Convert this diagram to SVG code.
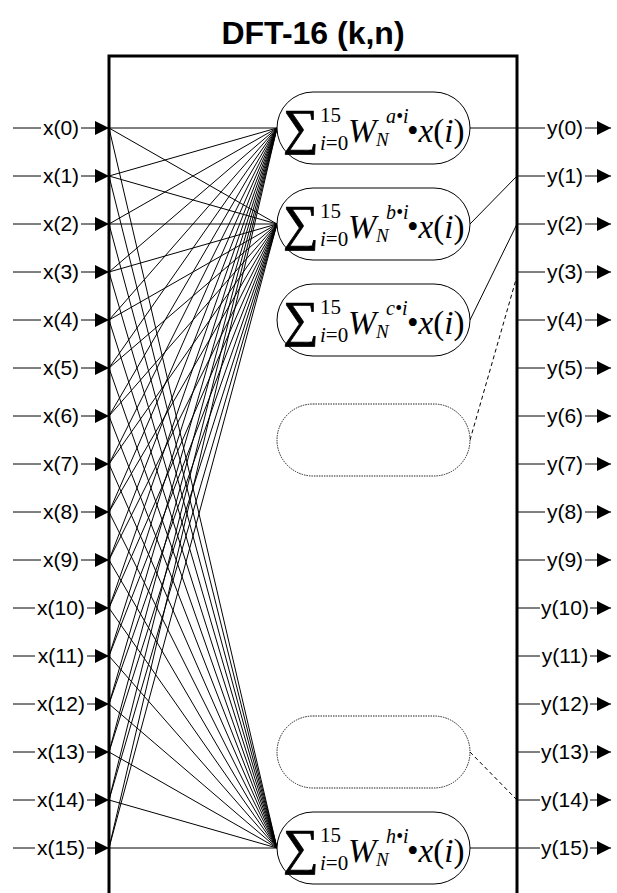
<svg xmlns="http://www.w3.org/2000/svg" width="617" height="893" viewBox="0 0 617 893">
<style>
.lbl{font-family:"Liberation Sans",Arial,sans-serif;font-size:21px;text-anchor:middle;fill:#000}
.ttl{font-family:"Liberation Sans",Arial,sans-serif;font-size:32px;font-weight:bold;text-anchor:middle;fill:#000}
.ln{stroke:#000;stroke-width:1;fill:none}
.arr{stroke:#000;stroke-width:1;fill:none;marker-end:url(#ah)}
.box{stroke:#000;stroke-width:3;fill:none}
.pill{fill:#fff;stroke:#000;stroke-width:1}
.dpill{fill:#fff;stroke:#222;stroke-width:1;stroke-dasharray:1.5,1}
.dash{stroke:#000;stroke-width:1;stroke-dasharray:4,3;fill:none}
.f{font-family:"Liberation Serif","Times New Roman",serif;fill:#000}
.sig{font-family:"Liberation Serif","Times New Roman",serif;fill:#000;stroke:#000;stroke-width:0.8;font-size:50px}
.it{font-style:italic}
</style>
<defs>
<marker id="ah" markerUnits="userSpaceOnUse" markerWidth="14" markerHeight="14" refX="14" refY="7" orient="auto">
<path d="M0,0 L14,7 L0,14 Z" fill="#000"/>
</marker>
</defs>
<text class="ttl" x="313" y="44">DFT-16 (k,n)</text>
<path class="box" d="M109,893 V56 H517 V893"/>
<g id="connectors">
<g id="fan-a">
<line class="ln" x1="109" y1="128" x2="277" y2="128"/>
<line class="ln" x1="109" y1="176" x2="277" y2="128"/>
<line class="ln" x1="109" y1="224" x2="277" y2="128"/>
<line class="ln" x1="109" y1="272" x2="277" y2="128"/>
<line class="ln" x1="109" y1="320" x2="277" y2="128"/>
<line class="ln" x1="109" y1="368" x2="277" y2="128"/>
<line class="ln" x1="109" y1="416" x2="277" y2="128"/>
<line class="ln" x1="109" y1="464" x2="277" y2="128"/>
<line class="ln" x1="109" y1="512" x2="277" y2="128"/>
<line class="ln" x1="109" y1="560" x2="277" y2="128"/>
<line class="ln" x1="109" y1="608" x2="277" y2="128"/>
<line class="ln" x1="109" y1="656" x2="277" y2="128"/>
<line class="ln" x1="109" y1="704" x2="277" y2="128"/>
<line class="ln" x1="109" y1="752" x2="277" y2="128"/>
<line class="ln" x1="109" y1="800" x2="277" y2="128"/>
<line class="ln" x1="109" y1="848" x2="277" y2="128"/>
</g>
<g id="fan-b">
<line class="ln" x1="109" y1="128" x2="277" y2="224"/>
<line class="ln" x1="109" y1="176" x2="277" y2="224"/>
<line class="ln" x1="109" y1="224" x2="277" y2="224"/>
<line class="ln" x1="109" y1="272" x2="277" y2="224"/>
<line class="ln" x1="109" y1="320" x2="277" y2="224"/>
<line class="ln" x1="109" y1="368" x2="277" y2="224"/>
<line class="ln" x1="109" y1="416" x2="277" y2="224"/>
<line class="ln" x1="109" y1="464" x2="277" y2="224"/>
<line class="ln" x1="109" y1="512" x2="277" y2="224"/>
<line class="ln" x1="109" y1="560" x2="277" y2="224"/>
<line class="ln" x1="109" y1="608" x2="277" y2="224"/>
<line class="ln" x1="109" y1="656" x2="277" y2="224"/>
<line class="ln" x1="109" y1="704" x2="277" y2="224"/>
<line class="ln" x1="109" y1="752" x2="277" y2="224"/>
<line class="ln" x1="109" y1="800" x2="277" y2="224"/>
<line class="ln" x1="109" y1="848" x2="277" y2="224"/>
</g>
<g id="fan-h">
<line class="ln" x1="109" y1="128" x2="277" y2="848"/>
<line class="ln" x1="109" y1="176" x2="277" y2="848"/>
<line class="ln" x1="109" y1="224" x2="277" y2="848"/>
<line class="ln" x1="109" y1="272" x2="277" y2="848"/>
<line class="ln" x1="109" y1="320" x2="277" y2="848"/>
<line class="ln" x1="109" y1="368" x2="277" y2="848"/>
<line class="ln" x1="109" y1="416" x2="277" y2="848"/>
<line class="ln" x1="109" y1="464" x2="277" y2="848"/>
<line class="ln" x1="109" y1="512" x2="277" y2="848"/>
<line class="ln" x1="109" y1="560" x2="277" y2="848"/>
<line class="ln" x1="109" y1="608" x2="277" y2="848"/>
<line class="ln" x1="109" y1="656" x2="277" y2="848"/>
<line class="ln" x1="109" y1="704" x2="277" y2="848"/>
<line class="ln" x1="109" y1="752" x2="277" y2="848"/>
<line class="ln" x1="109" y1="800" x2="277" y2="848"/>
<line class="ln" x1="109" y1="848" x2="277" y2="848"/>
</g>
<g id="outs">
<line class="ln" x1="470" y1="128" x2="517" y2="128"/>
<line class="ln" x1="470" y1="224" x2="517" y2="176"/>
<line class="ln" x1="470" y1="320" x2="517" y2="224"/>
<line class="dash" x1="470" y1="440" x2="517" y2="276"/>
<line class="dash" x1="470" y1="752" x2="517" y2="800"/>
<line class="ln" x1="470" y1="848" x2="517" y2="848"/>
</g>
</g>
<g id="inputs">
<g id="in0"><line class="ln" x1="13" y1="128" x2="41" y2="128"/><text class="lbl" x="61" y="134.5">x(0)</text><line class="arr" x1="81" y1="128" x2="109" y2="128"/></g>
<g id="in1"><line class="ln" x1="13" y1="176" x2="41" y2="176"/><text class="lbl" x="61" y="182.5">x(1)</text><line class="arr" x1="81" y1="176" x2="109" y2="176"/></g>
<g id="in2"><line class="ln" x1="13" y1="224" x2="41" y2="224"/><text class="lbl" x="61" y="230.5">x(2)</text><line class="arr" x1="81" y1="224" x2="109" y2="224"/></g>
<g id="in3"><line class="ln" x1="13" y1="272" x2="41" y2="272"/><text class="lbl" x="61" y="278.5">x(3)</text><line class="arr" x1="81" y1="272" x2="109" y2="272"/></g>
<g id="in4"><line class="ln" x1="13" y1="320" x2="41" y2="320"/><text class="lbl" x="61" y="326.5">x(4)</text><line class="arr" x1="81" y1="320" x2="109" y2="320"/></g>
<g id="in5"><line class="ln" x1="13" y1="368" x2="41" y2="368"/><text class="lbl" x="61" y="374.5">x(5)</text><line class="arr" x1="81" y1="368" x2="109" y2="368"/></g>
<g id="in6"><line class="ln" x1="13" y1="416" x2="41" y2="416"/><text class="lbl" x="61" y="422.5">x(6)</text><line class="arr" x1="81" y1="416" x2="109" y2="416"/></g>
<g id="in7"><line class="ln" x1="13" y1="464" x2="41" y2="464"/><text class="lbl" x="61" y="470.5">x(7)</text><line class="arr" x1="81" y1="464" x2="109" y2="464"/></g>
<g id="in8"><line class="ln" x1="13" y1="512" x2="41" y2="512"/><text class="lbl" x="61" y="518.5">x(8)</text><line class="arr" x1="81" y1="512" x2="109" y2="512"/></g>
<g id="in9"><line class="ln" x1="13" y1="560" x2="41" y2="560"/><text class="lbl" x="61" y="566.5">x(9)</text><line class="arr" x1="81" y1="560" x2="109" y2="560"/></g>
<g id="in10"><line class="ln" x1="13" y1="608" x2="35" y2="608"/><text class="lbl" x="61" y="614.5">x(10)</text><line class="arr" x1="87" y1="608" x2="109" y2="608"/></g>
<g id="in11"><line class="ln" x1="13" y1="656" x2="35" y2="656"/><text class="lbl" x="61" y="662.5">x(11)</text><line class="arr" x1="87" y1="656" x2="109" y2="656"/></g>
<g id="in12"><line class="ln" x1="13" y1="704" x2="35" y2="704"/><text class="lbl" x="61" y="710.5">x(12)</text><line class="arr" x1="87" y1="704" x2="109" y2="704"/></g>
<g id="in13"><line class="ln" x1="13" y1="752" x2="35" y2="752"/><text class="lbl" x="61" y="758.5">x(13)</text><line class="arr" x1="87" y1="752" x2="109" y2="752"/></g>
<g id="in14"><line class="ln" x1="13" y1="800" x2="35" y2="800"/><text class="lbl" x="61" y="806.5">x(14)</text><line class="arr" x1="87" y1="800" x2="109" y2="800"/></g>
<g id="in15"><line class="ln" x1="13" y1="848" x2="35" y2="848"/><text class="lbl" x="61" y="854.5">x(15)</text><line class="arr" x1="87" y1="848" x2="109" y2="848"/></g>
</g>
<g id="outputs">
<g id="out0"><line class="ln" x1="517" y1="128" x2="545" y2="128"/><text class="lbl" x="565" y="134.5">y(0)</text><line class="arr" x1="585" y1="128" x2="611" y2="128"/></g>
<g id="out1"><line class="ln" x1="517" y1="176" x2="545" y2="176"/><text class="lbl" x="565" y="182.5">y(1)</text><line class="arr" x1="585" y1="176" x2="611" y2="176"/></g>
<g id="out2"><line class="ln" x1="517" y1="224" x2="545" y2="224"/><text class="lbl" x="565" y="230.5">y(2)</text><line class="arr" x1="585" y1="224" x2="611" y2="224"/></g>
<g id="out3"><line class="ln" x1="517" y1="272" x2="545" y2="272"/><text class="lbl" x="565" y="278.5">y(3)</text><line class="arr" x1="585" y1="272" x2="611" y2="272"/></g>
<g id="out4"><line class="ln" x1="517" y1="320" x2="545" y2="320"/><text class="lbl" x="565" y="326.5">y(4)</text><line class="arr" x1="585" y1="320" x2="611" y2="320"/></g>
<g id="out5"><line class="ln" x1="517" y1="368" x2="545" y2="368"/><text class="lbl" x="565" y="374.5">y(5)</text><line class="arr" x1="585" y1="368" x2="611" y2="368"/></g>
<g id="out6"><line class="ln" x1="517" y1="416" x2="545" y2="416"/><text class="lbl" x="565" y="422.5">y(6)</text><line class="arr" x1="585" y1="416" x2="611" y2="416"/></g>
<g id="out7"><line class="ln" x1="517" y1="464" x2="545" y2="464"/><text class="lbl" x="565" y="470.5">y(7)</text><line class="arr" x1="585" y1="464" x2="611" y2="464"/></g>
<g id="out8"><line class="ln" x1="517" y1="512" x2="545" y2="512"/><text class="lbl" x="565" y="518.5">y(8)</text><line class="arr" x1="585" y1="512" x2="611" y2="512"/></g>
<g id="out9"><line class="ln" x1="517" y1="560" x2="545" y2="560"/><text class="lbl" x="565" y="566.5">y(9)</text><line class="arr" x1="585" y1="560" x2="611" y2="560"/></g>
<g id="out10"><line class="ln" x1="517" y1="608" x2="540" y2="608"/><text class="lbl" x="565" y="614.5">y(10)</text><line class="arr" x1="590" y1="608" x2="611" y2="608"/></g>
<g id="out11"><line class="ln" x1="517" y1="656" x2="540" y2="656"/><text class="lbl" x="565" y="662.5">y(11)</text><line class="arr" x1="590" y1="656" x2="611" y2="656"/></g>
<g id="out12"><line class="ln" x1="517" y1="704" x2="540" y2="704"/><text class="lbl" x="565" y="710.5">y(12)</text><line class="arr" x1="590" y1="704" x2="611" y2="704"/></g>
<g id="out13"><line class="ln" x1="517" y1="752" x2="540" y2="752"/><text class="lbl" x="565" y="758.5">y(13)</text><line class="arr" x1="590" y1="752" x2="611" y2="752"/></g>
<g id="out14"><line class="ln" x1="517" y1="800" x2="540" y2="800"/><text class="lbl" x="565" y="806.5">y(14)</text><line class="arr" x1="590" y1="800" x2="611" y2="800"/></g>
<g id="out15"><line class="ln" x1="517" y1="848" x2="540" y2="848"/><text class="lbl" x="565" y="854.5">y(15)</text><line class="arr" x1="590" y1="848" x2="611" y2="848"/></g>
</g>
<g id="node-a">
<rect class="pill" x="277" y="92" width="193" height="72" rx="36" ry="36"/>
<text class="sig" x="283" y="144">∑</text>
<text class="f" x="320" y="122" font-size="21">15</text>
<text class="f" x="320" y="150" font-size="21"><tspan class="it">i</tspan>=0</text>
<text class="f it" x="348" y="142" font-size="34">W</text>
<text class="f it" x="386" y="123" font-size="20">a•i</text>
<text class="f it" x="376" y="146" font-size="19">N</text>
<text class="f" x="407" y="142" font-size="33">•<tspan class="it">x</tspan>(<tspan class="it">i</tspan>)</text>
</g>
<g id="node-b" transform="translate(0,96)">
<rect class="pill" x="277" y="92" width="193" height="72" rx="36" ry="36"/>
<text class="sig" x="283" y="144">∑</text>
<text class="f" x="320" y="122" font-size="21">15</text>
<text class="f" x="320" y="150" font-size="21"><tspan class="it">i</tspan>=0</text>
<text class="f it" x="348" y="142" font-size="34">W</text>
<text class="f it" x="386" y="123" font-size="20">b•i</text>
<text class="f it" x="376" y="146" font-size="19">N</text>
<text class="f" x="407" y="142" font-size="33">•<tspan class="it">x</tspan>(<tspan class="it">i</tspan>)</text>
</g>
<g id="node-c" transform="translate(0,192)">
<rect class="pill" x="277" y="92" width="193" height="72" rx="36" ry="36"/>
<text class="sig" x="283" y="144">∑</text>
<text class="f" x="320" y="122" font-size="21">15</text>
<text class="f" x="320" y="150" font-size="21"><tspan class="it">i</tspan>=0</text>
<text class="f it" x="348" y="142" font-size="34">W</text>
<text class="f it" x="386" y="123" font-size="20">c•i</text>
<text class="f it" x="376" y="146" font-size="19">N</text>
<text class="f" x="407" y="142" font-size="33">•<tspan class="it">x</tspan>(<tspan class="it">i</tspan>)</text>
</g>
<g id="node-d"><rect class="dpill" x="277" y="404" width="193" height="72" rx="36" ry="36"/></g>
<g id="node-g"><rect class="dpill" x="277" y="716" width="193" height="72" rx="36" ry="36"/></g>
<g id="node-h" transform="translate(0,720)">
<rect class="pill" x="277" y="92" width="193" height="72" rx="36" ry="36"/>
<text class="sig" x="283" y="144">∑</text>
<text class="f" x="320" y="122" font-size="21">15</text>
<text class="f" x="320" y="150" font-size="21"><tspan class="it">i</tspan>=0</text>
<text class="f it" x="348" y="142" font-size="34">W</text>
<text class="f it" x="386" y="123" font-size="20">h•i</text>
<text class="f it" x="376" y="146" font-size="19">N</text>
<text class="f" x="407" y="142" font-size="33">•<tspan class="it">x</tspan>(<tspan class="it">i</tspan>)</text>
</g>
</svg>
